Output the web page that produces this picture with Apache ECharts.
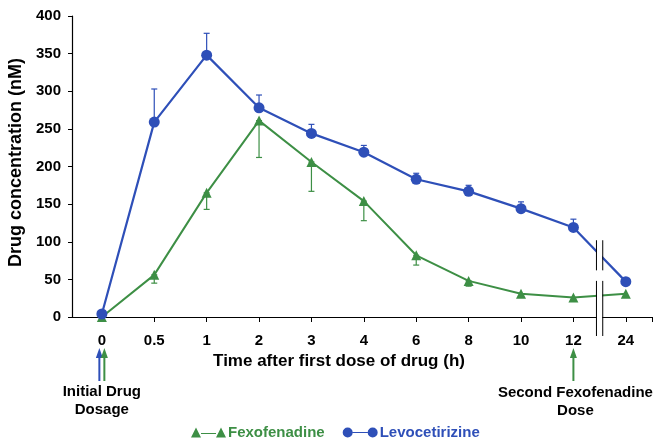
<!DOCTYPE html>
<html><head><meta charset="utf-8">
<script src="https://cdn.jsdelivr.net/npm/echarts@6/dist/echarts.min.js"></script>
<style>html,body{margin:0;padding:0;background:#fff}#c{width:654px;height:446px}</style>
</head><body><div id="c"></div>
<script>
const timeLabels = ['0','0.5','1','2','3','4','6','8','10','12','24'];
const fexofenadine = [0, 56, 165, 261, 206, 154, 82, 48, 31, 26, 31];
const fexoErrLow = [0, 45, 143, 212, 167, 128, 69, 41, 31, 26, 31];
const levocetirizine = [4, 259, 348, 278, 244, 219, 183, 167, 144, 119, 47];
const levoErrHigh = [4, 303, 377, 295, 256, 228, 191, 175, 153, 130, 47];
const yTicks = [0, 50, 100, 150, 200, 250, 300, 350, 400];

const BLUE = '#2e4fb8', GREEN = '#3d8f45';
const FONT = 'Liberation Sans';
const chart = echarts.init(document.getElementById('c'));

const fexoData = fexofenadine.map((v, i) => [i, v]);
const levoData = levocetirizine.map((v, i) => [i, v]);
const fexoErr = fexofenadine.map((v, i) => [i, fexoErrLow[i], v]);
const levoErr = levocetirizine.map((v, i) => [i, v, levoErrHigh[i]]);

function errRender(color) {
  return function (params, api) {
    const x = api.value(0);
    const lo = api.coord([x, api.value(1)]);
    const hi = api.coord([x, api.value(2)]);
    if (Math.abs(lo[1] - hi[1]) < 1) return null;
    const st = { stroke: color, lineWidth: 1.2 };
    return { type: 'group', children: [
      { type: 'line', shape: { x1: lo[0], y1: lo[1], x2: hi[0], y2: hi[1] }, style: st },
      { type: 'line', shape: { x1: lo[0] - 3, y1: lo[1], x2: lo[0] + 3, y2: lo[1] }, style: st },
      { type: 'line', shape: { x1: hi[0] - 3, y1: hi[1], x2: hi[0] + 3, y2: hi[1] }, style: st }
    ]};
  };
}

const triIcon = 'path://M0,11 L5,1 L10,11 Z M10,6.4 L25,6.4 L25,7.6 L10,7.6 Z M25,11 L30,1 L35,11 Z';
const cirIcon = 'path://M0,6 A5,5 0 1,1 10,6 A5,5 0 1,1 0,6 Z M10,5.4 L25,5.4 L25,6.6 L10,6.6 Z M25,6 A5,5 0 1,1 35,6 A5,5 0 1,1 25,6 Z';

chart.setOption({
  animation: false,
  grid: { left: 72, right: 2, top: 16, bottom: 129, containLabel: false, outerBoundsMode: 'none' },
  legend: {
    bottom: 1, left: 186, itemGap: 18, itemWidth: 35, itemHeight: 11,
    data: [
      { name: 'Fexofenadine', icon: triIcon, itemStyle: { color: GREEN }, textStyle: { color: GREEN } },
      { name: 'Levocetirizine', icon: cirIcon, itemStyle: { color: BLUE }, textStyle: { color: BLUE } }
    ],
    textStyle: { fontFamily: FONT, fontWeight: 'bold', fontSize: 15, padding: [0, 0, 0, -3] }
  },
  xAxis: {
    type: 'value', min: -0.57, max: 10.5,
    splitLine: { show: false },
    axisLine: { show: true, onZero: false, lineStyle: { color: '#000', width: 1.2 } },
    axisTick: { show: true, length: 5, lineStyle: { color: '#000' }, customValues: [1,2,3,4,5,6,7,8,9,10,10.5] },
    axisLabel: { customValues: timeLabels.map((t, i) => i), formatter: v => timeLabels[Math.round(v)],
      color: '#000', fontFamily: FONT, fontWeight: 'bold', fontSize: 15, margin: 16 }
  },
  yAxis: {
    type: 'value', min: 0, max: 400, interval: 50,
    name: 'Drug concentration (nM)', nameLocation: 'middle', nameGap: 42,
    nameTextStyle: { color: '#000', fontFamily: FONT, fontWeight: 'bold', fontSize: 18, padding: [0, 0, 0, 8] },
    splitLine: { show: false },
    axisLine: { show: true, onZero: false, lineStyle: { color: '#000', width: 1.2 } },
    axisTick: { show: true, length: 4, lineStyle: { color: '#000' } },
    axisLabel: { color: '#000', fontFamily: FONT, fontWeight: 'bold', fontSize: 15, margin: 11,
      formatter: v => yTicks.includes(v) ? String(v) : '' }
  },
  series: [
    { type: 'custom', name: 'fexoErr', renderItem: errRender(GREEN), data: fexoErr, z: 1, silent: true },
    { type: 'custom', name: 'levoErr', renderItem: errRender(BLUE), data: levoErr, z: 1, silent: true },
    { name: 'Fexofenadine', type: 'line', data: fexoData, symbol: 'triangle', symbolSize: 10,
      lineStyle: { color: GREEN, width: 2 }, itemStyle: { color: GREEN }, z: 3 },
    { name: 'Levocetirizine', type: 'line', data: levoData, symbol: 'circle', symbolSize: 11,
      lineStyle: { color: BLUE, width: 2.2 }, itemStyle: { color: BLUE }, z: 4 }
  ]
});

// decorations: axis break, dose arrows, annotations, x-axis title
const px = (x, y) => chart.convertToPixel({ gridIndex: 0 }, [x, y]);
const p0 = px(0, 0), p12 = px(9, 0), pb1 = px(9.44, 0), pb2 = px(9.56, 0);
const yTop = px(0, 102)[1], yGapA = px(0, 62)[1], yGapB = px(0, 48)[1];
const yBot = p0[1] + 19;
function arrow(x, color) {
  return [
    { type: 'line', shape: { x1: x, y1: 354, x2: x, y2: 381 }, style: { stroke: color, lineWidth: 2 } },
    { type: 'polygon', shape: { points: [[x - 3.5, 358], [x, 348], [x + 3.5, 358]] }, style: { fill: color } }
  ];
}
const bl = { stroke: '#000', lineWidth: 1 };
const txt = { fontFamily: 'Liberation Sans Narrow, Liberation Sans', fontWeight: 'bold', fontSize: 15, fill: '#000', textAlign: 'center', lineHeight: 18 };
chart.setOption({ graphic: [
  { type: 'rect', shape: { x: pb1[0] + 0.5, y: yTop, width: pb2[0] - pb1[0] - 1, height: yBot - yTop }, style: { fill: '#fff' }, z: 100 },
  { type: 'line', shape: { x1: pb1[0], y1: yTop, x2: pb1[0], y2: yGapA }, style: bl, z: 101 },
  { type: 'line', shape: { x1: pb2[0], y1: yTop, x2: pb2[0], y2: yGapA }, style: bl, z: 101 },
  { type: 'line', shape: { x1: pb1[0], y1: yGapB, x2: pb1[0], y2: yBot }, style: bl, z: 101 },
  { type: 'line', shape: { x1: pb2[0], y1: yGapB, x2: pb2[0], y2: yBot }, style: bl, z: 101 },
  ...arrow(p0[0] - 2.5, BLUE), ...arrow(p0[0] + 2.5, GREEN), ...arrow(p12[0], GREEN),
  { type: 'text', x: p0[0], y: 383, style: Object.assign({ text: 'Initial Drug\nDosage' }, txt) },
  { type: 'text', x: p12[0] + 2, y: 384, style: Object.assign({ text: 'Second Fexofenadine\nDose' }, txt) },
  { type: 'text', x: 339, y: 353, style: { text: 'Time after first dose of drug (h)', fontFamily: FONT, fontWeight: 'bold', fontSize: 17, fill: '#000', textAlign: 'center' } }
]});
</script></body></html>
